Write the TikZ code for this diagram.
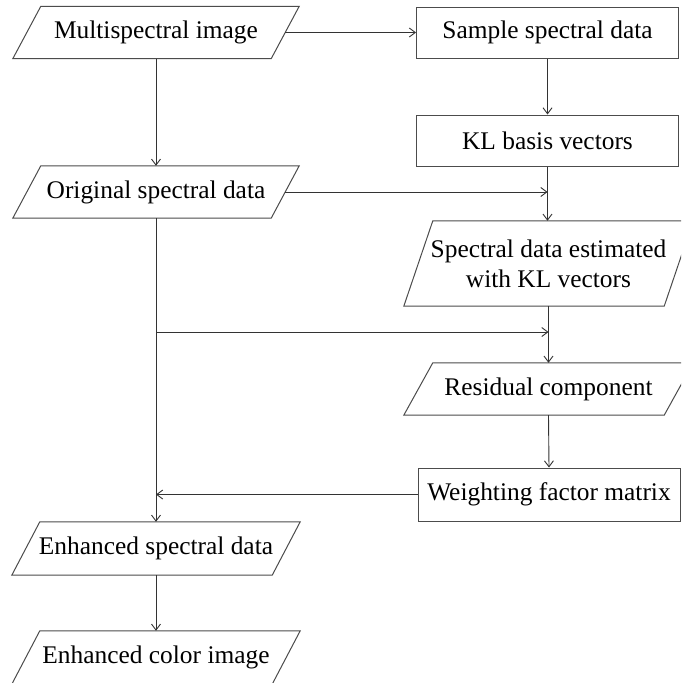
\documentclass[tikz,border=0pt]{standalone}
\usepackage{fontspec}
\setmainfont{Liberation Serif}
\usetikzlibrary{arrows.meta,calc}
\begin{document}
\begin{tikzpicture}[x=1pt,y=-1pt,
  lbl/.style={inner sep=0pt, font=\fontsize{25.4}{30}\selectfont, align=center},
  boxn/.style={lbl, draw=black!70, line width=1pt, minimum width=262pt, minimum height=51pt},
  pgram/.style={lbl},
  shp/.style={draw=black!70, line width=1pt},
  conn/.style={draw=black!80, line width=0.9pt, -{Straight Barb[length=6pt,width=9pt]}},
  link/.style={draw=black!80, line width=0.9pt}]
\clip (0,0) rectangle (681,683);
\fill[white] (0,0) rectangle (681,683);
% nodes
\node[pgram, minimum width=286pt, minimum height=52pt] (ms) at (156,32.5) {Multispectral image};
\node[boxn] (sam) at (547.5,32.5) {Sample spectral data};
\node[boxn] (kl) at (547.5,140.5) {KL basis vectors};
\node[pgram, minimum width=286pt, minimum height=52pt] (orig) at (156,192) {Original spectral data};
\node[pgram, minimum width=289pt, minimum height=85pt] (est) at (548.5,263.5) {Spectral data estimated\\with KL vectors};
\node[pgram, minimum width=289pt, minimum height=52pt] (res) at (548.5,389) {Residual component};
\node[boxn, minimum height=53pt] (wf) at (549,494.5) {Weighting factor matrix};
\node[pgram, minimum width=288pt, minimum height=53pt] (ens) at (156,548.5) {Enhanced spectral data};
\node[pgram, minimum width=288pt, minimum height=53pt] (enc) at (156,657.5) {Enhanced color image};
% parallelogram outlines
\foreach \n/\s in {ms/28,orig/28,ens/28,enc/28,est/29,res/29}{
  \draw[shp] (\n.south west) -- ([xshift=\s pt]\n.north west) -- (\n.north east) -- ([xshift=-\s pt]\n.south east) -- cycle;
}
% connectors
\draw[conn] ([xshift=-14pt]ms.east) -- (sam.west);
\draw[conn] (ms.south) -- (orig.north);
\draw[conn] (sam.south) -- (kl.north);
\draw[conn] (kl.south) -- (kl.south |- est.north);
\coordinate (j1) at (kl.south |- orig.east);
\draw[conn] ([xshift=-14pt]orig.east) -- (j1);
\draw[conn] (orig.south) -- (ens.north);
\coordinate (m2) at (156,332);
\draw[conn] (m2) -- (est.south |- m2);
\draw[conn] (est.south) -- (res.north);
\draw[conn] (res.south) -- (wf.north);
\draw[conn] (wf.west) -- (ens.north |- wf.west);
\draw[conn] (ens.south) -- (enc.north);
\end{tikzpicture}
\end{document}
